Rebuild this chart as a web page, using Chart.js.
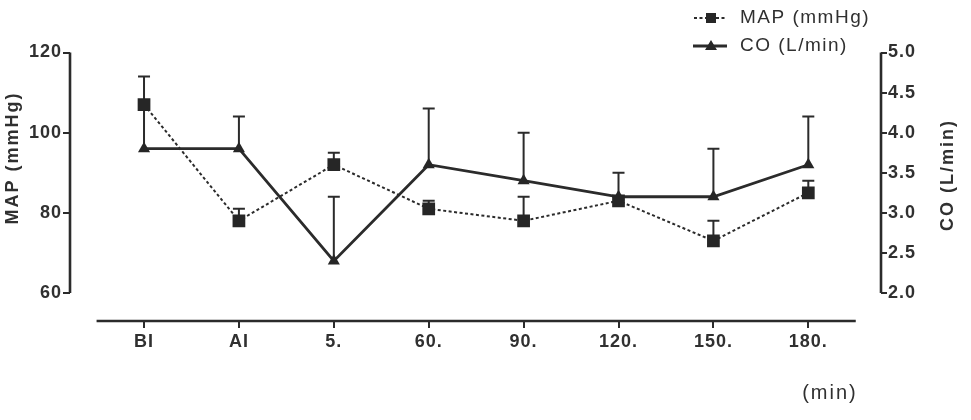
<!DOCTYPE html>
<html><head><meta charset="utf-8">
<script src="https://cdn.jsdelivr.net/npm/chart.js@4.4.1/dist/chart.umd.min.js"></script>
<style>html,body{margin:0;padding:0;background:#fff;}#wrap{width:971px;height:420px;}</style>
</head><body><div id="wrap"><canvas id="c" width="971" height="420"></canvas></div>
<script>
// ---- data ----
const categories = ['BI', 'AI', '5.', '60.', '90.', '120.', '150.', '180.'];
const mapMean  = [107, 78, 92, 81, 78, 83, 73, 85];      // MAP (mmHg), mean
const mapUpper = [114, 81, 95, 83, 84, 84, 78, 88];      // MAP mean + SD
const coMean   = [3.8, 3.8, 2.4, 3.6, 3.4, 3.2, 3.2, 3.6]; // CO (L/min), mean
const coUpper  = [4.4, 4.2, 3.2, 4.3, 4.0, 3.5, 3.8, 4.2]; // CO mean + SD
const mapTicks = [60, 80, 100, 120];
const coTicks  = [2.0, 2.5, 3.0, 3.5, 4.0, 4.5, 5.0];
const seriesNames = ['MAP (mmHg)', 'CO (L/min)'];
const xTitle = '(min)';

const INK = '#2b2b2b';
const TXT = '#303030';
const FAM = '"Liberation Sans", Arial, Helvetica, sans-serif';
const MAP_DASH = [3, 2.5];

const spacing = {
  id: 'spacing',
  beforeUpdate(chart) { chart.ctx.letterSpacing = '1px'; },
  beforeDraw(chart) { chart.ctx.letterSpacing = '1px'; }
};

const errorBars = {
  id: 'errorBars',
  beforeDatasetsDraw(chart) {
    const ctx = chart.ctx, x = chart.scales.x;
    const sets = [[chart.scales.y, mapMean, mapUpper], [chart.scales.y1, coMean, coUpper]];
    ctx.save();
    ctx.strokeStyle = INK; ctx.lineWidth = 2; ctx.setLineDash([]);
    sets.forEach(([s, m, u]) => {
      m.forEach((v, i) => {
        const px = x.getPixelForValue(i);
        const y0 = s.getPixelForValue(v), y1 = s.getPixelForValue(u[i]);
        ctx.beginPath();
        ctx.moveTo(px, y0); ctx.lineTo(px, y1);
        ctx.moveTo(px - 6, y1); ctx.lineTo(px + 6, y1);
        ctx.stroke();
      });
    });
    ctx.restore();
  }
};

const axesLines = {
  id: 'axesLines',
  beforeDatasetsDraw(chart) {
    const ctx = chart.ctx, a = chart.chartArea, s = chart.scales;
    ctx.save();
    ctx.strokeStyle = INK; ctx.lineWidth = 2.6; ctx.setLineDash([]);
    ctx.beginPath();
    ctx.moveTo(a.left, s.y.getPixelForValue(mapTicks[0]));
    ctx.lineTo(a.left, s.y.getPixelForValue(mapTicks[mapTicks.length - 1]));
    ctx.moveTo(a.right, s.y1.getPixelForValue(coTicks[0]));
    ctx.lineTo(a.right, s.y1.getPixelForValue(coTicks[coTicks.length - 1]));
    ctx.moveTo(s.x.getPixelForValue(-0.5), a.bottom);
    ctx.lineTo(s.x.getPixelForValue(categories.length - 0.5), a.bottom);
    ctx.stroke();
    ctx.restore();
  }
};

const labels = {
  id: 'labels',
  afterDraw(chart) {
    const ctx = chart.ctx, s = chart.scales;
    ctx.save();
    ctx.letterSpacing = '2px';
    ctx.fillStyle = TXT;
    // axis titles
    ctx.font = 'bold 18px ' + FAM;
    ctx.textAlign = 'center'; ctx.textBaseline = 'middle';
    ctx.save(); ctx.translate(13, 158); ctx.rotate(-Math.PI / 2); ctx.fillText(seriesNames[0], 0, 0); ctx.restore();
    ctx.save(); ctx.translate(948, 175); ctx.rotate(-Math.PI / 2); ctx.fillText(seriesNames[1], 0, 0); ctx.restore();
    ctx.font = '20px ' + FAM;
    ctx.textAlign = 'right';
    ctx.fillText(xTitle, s.x.getPixelForValue(categories.length - 0.5) + 2, 393);
    // legend
    ctx.letterSpacing = '1.5px';
    ctx.font = '19px ' + FAM; ctx.textAlign = 'left';
    ctx.fillText(seriesNames[0], 740, 18);
    ctx.fillText(seriesNames[1], 740, 46);
    ctx.strokeStyle = INK; ctx.fillStyle = '#262626';
    ctx.lineWidth = 2; ctx.setLineDash(MAP_DASH);
    ctx.beginPath(); ctx.moveTo(694, 18); ctx.lineTo(727, 18); ctx.stroke();
    ctx.setLineDash([]);
    ctx.fillRect(706, 13, 10, 10);
    ctx.lineWidth = 2.8;
    ctx.beginPath(); ctx.moveTo(693, 46); ctx.lineTo(727, 46); ctx.stroke();
    ctx.beginPath(); ctx.moveTo(711, 40); ctx.lineTo(717, 50); ctx.lineTo(705, 50); ctx.closePath(); ctx.fill();
    ctx.restore();
  }
};

const tickFont = { family: FAM, size: 18, weight: 'bold' };

new Chart(document.getElementById('c'), {
  type: 'line',
  data: {
    datasets: [
      {
        label: seriesNames[0],
        data: categories.map((c, i) => ({ x: i, y: mapMean[i] })),
        yAxisID: 'y',
        borderColor: INK, borderWidth: 2, borderDash: MAP_DASH,
        pointStyle: 'rect', pointRadius: 9, pointBorderWidth: 0,
        pointBackgroundColor: '#262626', tension: 0, fill: false
      },
      {
        label: seriesNames[1],
        data: categories.map((c, i) => ({ x: i, y: coMean[i] })),
        yAxisID: 'y1',
        borderColor: INK, borderWidth: 2.8,
        pointStyle: 'triangle', pointRadius: 7, pointBorderWidth: 0,
        pointBackgroundColor: '#262626', tension: 0, fill: false
      }
    ]
  },
  options: {
    responsive: false, animation: false, devicePixelRatio: 1,
    layout: { padding: { top: 52.5, left: 0, right: 0, bottom: 0 } },
    plugins: { legend: { display: false }, tooltip: { enabled: false } },
    elements: { line: { borderCapStyle: 'butt' } },
    scales: {
      x: {
        type: 'linear', min: -0.78, max: 7.766, bounds: 'data',
        afterBuildTicks(sc) { sc.ticks = categories.map((c, i) => ({ value: i })); },
        afterFit(sc) { sc.height = 99; },
        grid: { display: true, drawOnChartArea: false, drawTicks: true, tickLength: 7, color: INK, lineWidth: 2 },
        border: { display: false },
        ticks: { autoSkip: false, maxRotation: 0, padding: 3, color: TXT, font: tickFont,
                 callback: (v) => categories[v] }
      },
      y: {
        position: 'left', min: 53, max: 120, bounds: 'data',
        afterBuildTicks(sc) { sc.ticks = mapTicks.map(v => ({ value: v })); },
        afterFit(sc) { sc.width = 70; },
        grid: { display: true, drawOnChartArea: false, drawTicks: true, tickLength: 7, color: INK, lineWidth: 2 },
        border: { display: false },
        ticks: { padding: 1, color: TXT, font: tickFont }
      },
      y1: {
        position: 'right', min: 1.65, max: 5.0, bounds: 'data',
        afterBuildTicks(sc) { sc.ticks = coTicks.map(v => ({ value: v })); },
        afterFit(sc) { sc.width = 90; },
        grid: { display: true, drawOnChartArea: false, drawTicks: true, tickLength: 6, color: INK, lineWidth: 2 },
        border: { display: false },
        ticks: { padding: 1, color: TXT, font: tickFont, callback: (v) => Number(v).toFixed(1) }
      }
    }
  },
  plugins: [spacing, axesLines, errorBars, labels]
});
</script>
</body></html>
